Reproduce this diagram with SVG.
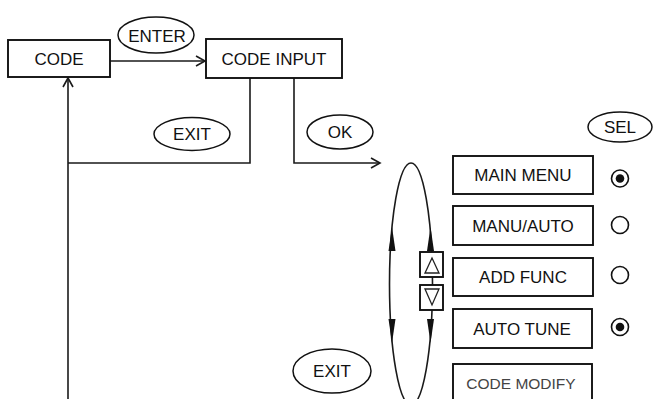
<svg xmlns="http://www.w3.org/2000/svg" width="653" height="399" viewBox="0 0 653 399">
<style>
.box{fill:#fff;stroke:#111;stroke-width:1.9}
.ell{fill:#fff;stroke:#111;stroke-width:1.5}
.ln{fill:none;stroke:#1a1a1a;stroke-width:1.6}
.t{font-family:"Liberation Sans",Arial,sans-serif;font-size:17px;fill:#111;text-anchor:middle}
.t2{font-family:"Liberation Sans",Arial,sans-serif;font-size:15.5px;fill:#444;text-anchor:middle}
</style>
<defs>
<marker id="chev" markerUnits="userSpaceOnUse" markerWidth="12" markerHeight="12" viewBox="0 0 12 12" refX="10" refY="6" orient="auto">
<path d="M1,1 L10,6 L1,11" fill="none" stroke="#1a1a1a" stroke-width="1.6"/>
</marker>
</defs>
<rect width="653" height="399" fill="#fff"/>
<g id="connectors">
<line class="ln" x1="110" y1="61" x2="205" y2="61" marker-end="url(#chev)"/>
<line class="ln" x1="68" y1="399" x2="68" y2="78" marker-end="url(#chev)"/>
<polyline class="ln" points="250,78 250,163 68,163"/>
<polyline class="ln" points="294,78 294,163 380,163" marker-end="url(#chev)"/>
<ellipse class="ln" cx="411" cy="284" rx="21.5" ry="121"/>
<polygon points="392,227 388.5,251 395.5,251" fill="#111"/>
<polygon points="430.5,227 427,251 434,251" fill="#111"/>
<polygon points="392,343 388.5,319 395.5,319" fill="#111"/>
<polygon points="430.5,343 427,319 434,319" fill="#111"/>
</g>
<g id="code"><rect class="box" x="8" y="40" width="102" height="37"/><text class="t" x="59" y="64.5">CODE</text></g>
<g id="code-input"><rect class="box" x="206" y="39" width="136" height="39"/><text class="t" x="274" y="64.5">CODE INPUT</text></g>
<g id="enter"><ellipse class="ell" cx="156" cy="35" rx="38" ry="18"/><text class="t" x="157" y="41.5">ENTER</text></g>
<g id="exit1"><ellipse class="ell" cx="192" cy="134" rx="38" ry="16.5"/><text class="t" x="192" y="140">EXIT</text></g>
<g id="ok"><ellipse class="ell" cx="340" cy="132" rx="33" ry="17"/><text class="t" x="340" y="138">OK</text></g>
<g id="sel"><ellipse class="ell" cx="620" cy="127" rx="32" ry="15"/><text class="t" x="620" y="133">SEL</text></g>
<g id="exit2"><ellipse class="ell" cx="332" cy="371" rx="39" ry="22"/><text class="t" x="332" y="377">EXIT</text></g>
<g id="up"><rect class="box" x="420" y="252" width="23" height="25"/><polygon points="425,273 432,258 439,273" fill="none" stroke="#222" stroke-width="1.3"/></g>
<g id="down"><rect class="box" x="420" y="285" width="23" height="25"/><polygon points="425,289 432,305 439,289" fill="none" stroke="#222" stroke-width="1.3"/></g>
<g id="main-menu"><rect class="box" x="453" y="156" width="140" height="38"/><text class="t" x="523" y="181">MAIN MENU</text></g>
<g id="manu-auto"><rect class="box" x="453" y="206" width="140" height="39"/><text class="t" x="523" y="231.5">MANU/AUTO</text></g>
<g id="add-func"><rect class="box" x="453" y="258" width="140" height="38"/><text class="t" x="523" y="283">ADD FUNC</text></g>
<g id="auto-tune"><rect class="box" x="453" y="309" width="139" height="39"/><text class="t" x="522" y="334.5">AUTO TUNE</text></g>
<g id="code-modify"><rect class="box" x="453" y="364" width="139" height="40"/><text class="t2" x="521" y="389">CODE MODIFY</text></g>
<g id="radio1"><circle cx="620" cy="178.5" r="8.5" fill="#fff" stroke="#111" stroke-width="1.6"/><circle cx="620" cy="178.5" r="4.3" fill="#111"/></g>
<g id="radio2"><circle cx="620" cy="225" r="8.5" fill="#fff" stroke="#111" stroke-width="1.6"/></g>
<g id="radio3"><circle cx="620" cy="275" r="8.5" fill="#fff" stroke="#111" stroke-width="1.6"/></g>
<g id="radio4"><circle cx="620" cy="327" r="8.5" fill="#fff" stroke="#111" stroke-width="1.6"/><circle cx="620" cy="327" r="4.3" fill="#111"/></g>
</svg>
